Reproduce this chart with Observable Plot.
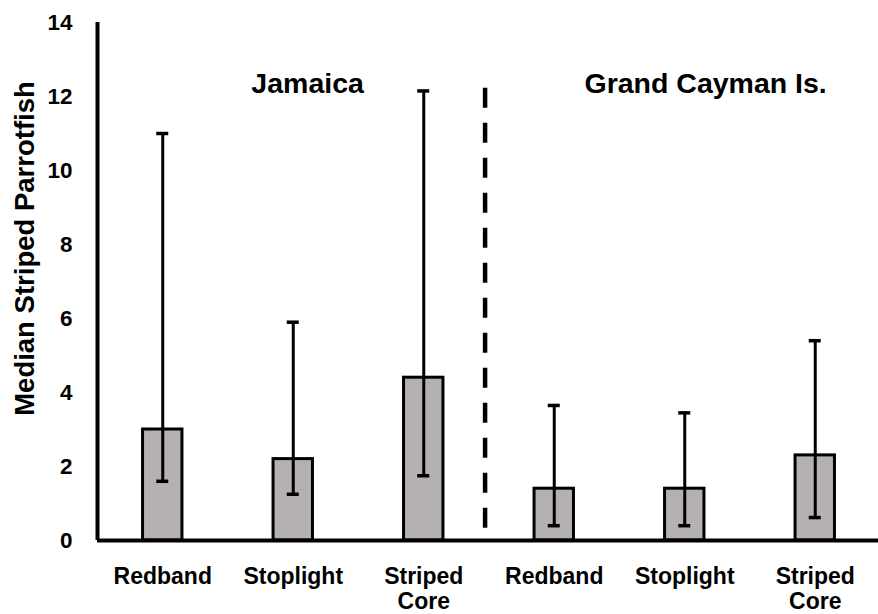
<!DOCTYPE html>
<html>
<head>
<meta charset="utf-8">
<script src="https://cdn.jsdelivr.net/npm/d3@7"></script>
<script src="https://cdn.jsdelivr.net/npm/@observablehq/plot@0.6"></script>
<style>
  html, body { margin: 0; padding: 0; background: #fff; }
  #chart { width: 878px; height: 614px; }
</style>
</head>
<body>
<div id="chart"></div>
<script>
const categories = ["Redband", "Stoplight", "Striped\nCore", "Redband", "Stoplight", "Striped\nCore"];
const regions = ["Jamaica", "Jamaica", "Jamaica", "Grand Cayman Is.", "Grand Cayman Is.", "Grand Cayman Is."];
const medians = [3.0, 2.2, 4.4, 1.4, 1.4, 2.3];
const lower = [1.6, 1.25, 1.75, 0.4, 0.4, 0.62];
const upper = [11.0, 5.9, 12.15, 3.65, 3.45, 5.4];
const yTicks = [0, 2, 4, 6, 8, 10, 12, 14];
const yLabel = "Median Striped Parrotfish";
const regionLabels = ["Jamaica", "Grand Cayman Is."];
const regionLabelX = [2.11, 5.16];
const regionLabelY = [12.35, 12.35];
const dividerX = 3.47;
const dividerTop = 12.22;

const data = categories.map((c, i) => ({
  pos: i + 1, category: c, region: regions[i],
  median: medians[i], lo: lower[i], hi: upper[i]
}));
const labels = regionLabels.map((t, i) => ({text: t, x: regionLabelX[i], y: regionLabelY[i]}));

const bw = 0.151;
const cw = 0.046;

const plot = Plot.plot({
  width: 878,
  height: 614,
  marginLeft: 97,
  marginRight: -2,
  marginTop: 22,
  marginBottom: 74,
  style: {fontFamily: "'Liberation Sans', Arial, sans-serif", background: "#fff", color: "#000"},
  x: {domain: [0.5, 6.5]},
  y: {domain: [0, 14]},
  marks: [
    Plot.rectY(data, {
      x1: d => d.pos - bw, x2: d => d.pos + bw, y1: 0, y2: "median",
      fill: "#b4b1b0", stroke: "#000", strokeWidth: 3
    }),
    Plot.ruleX(data, {x: "pos", y1: "lo", y2: "hi", stroke: "#000", strokeWidth: 3}),
    Plot.ruleY(data, {y: "lo", x1: d => d.pos - cw, x2: d => d.pos + cw, stroke: "#000", strokeWidth: 3.5}),
    Plot.ruleY(data, {y: "hi", x1: d => d.pos - cw, x2: d => d.pos + cw, stroke: "#000", strokeWidth: 3.5}),
    Plot.ruleX([dividerX], {y1: dividerTop, y2: 0, stroke: "#000", strokeWidth: 4.5, strokeDasharray: "20,15"}),
    Plot.ruleY([0], {stroke: "#000", strokeWidth: 4}),
    Plot.ruleX([0.5], {y1: 0, y2: 14, stroke: "#000", strokeWidth: 4}),
    Plot.axisY({ticks: yTicks, tickSize: 0, tickPadding: 25, fontSize: 22.5, fontWeight: "bold", label: null}),
    Plot.axisX({
      ticks: data.map(d => d.pos), tickFormat: p => categories[p - 1],
      tickSize: 0, tickPadding: 26, fontSize: 23, fontWeight: "bold",
      lineHeight: 1.08, label: null
    }),
    Plot.text(labels, {x: "x", y: "y", text: "text", fontSize: 28.5, fontWeight: "bold", fill: "#000"}),
    Plot.text([yLabel], {frameAnchor: "left", textAnchor: "middle", rotate: -90, dx: -72, dy: -33, fontSize: 27.5, fontWeight: "bold", fill: "#000"})
  ]
});
document.getElementById("chart").appendChild(plot);
</script>
</body>
</html>
